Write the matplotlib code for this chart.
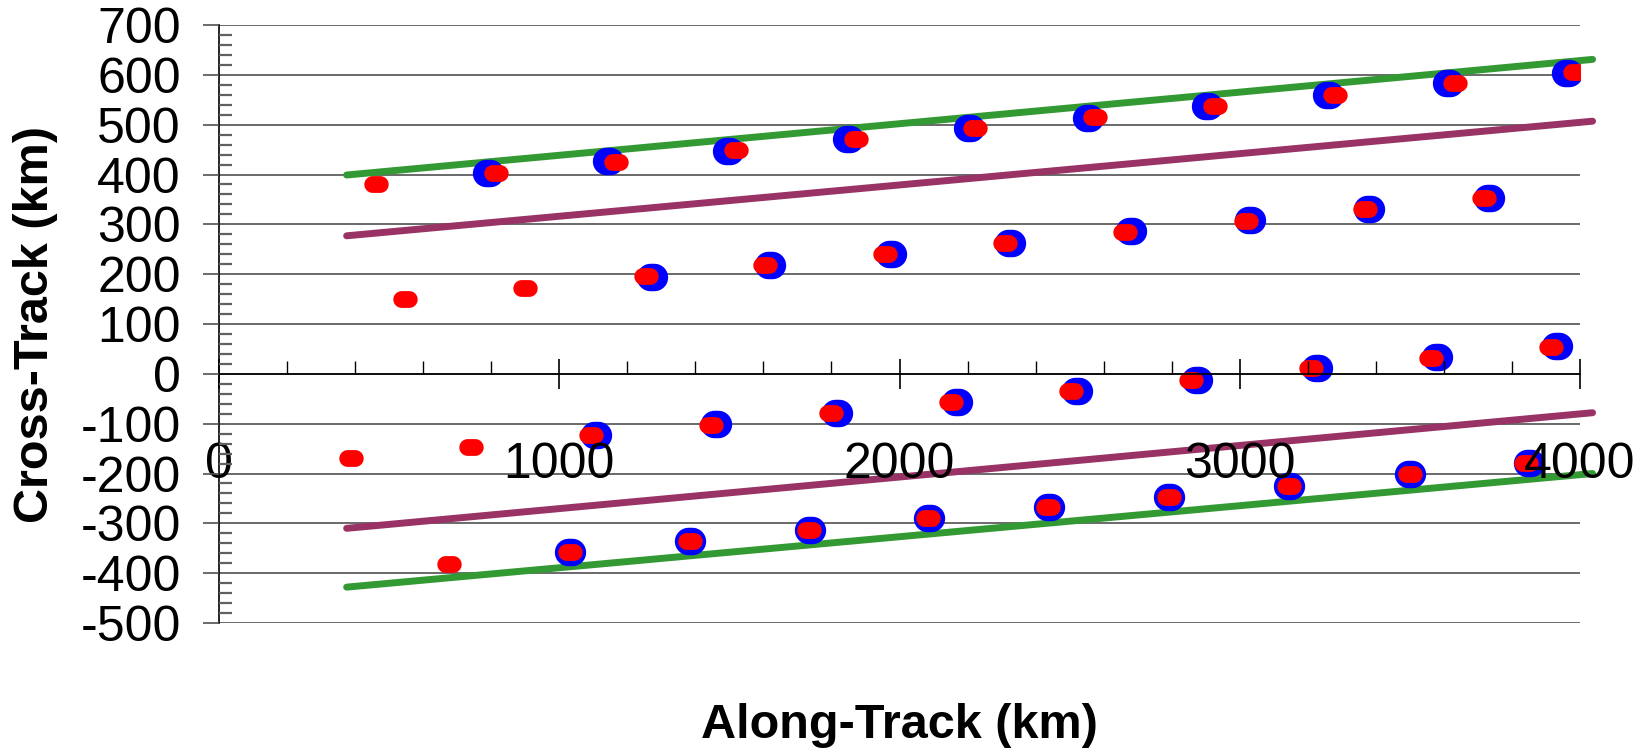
import numpy as np
import matplotlib
matplotlib.use("Agg")
import matplotlib.pyplot as plt
from matplotlib.path import Path
from matplotlib.ticker import MultipleLocator

plt.rcParams['axes.unicode_minus'] = False

# boundary lines, along-track end points
line_x = [375, 4037]
green_top = [399, 631]
purple_top = [277, 507]
purple_bot = [-310, -78]
green_bot = [-428, -200]

# blue points, four tracks
blue1_x = [790, 1143, 1495, 1848, 2203, 2553, 2905, 3258, 3613, 3963]
blue1_y = [404, 427, 447, 471, 493, 514, 537, 560, 583, 604]
blue2_x = [1273, 1619, 1975, 2326, 2679, 3031, 3381, 3734]
blue2_y = [195, 219, 241, 263, 286, 308, 330, 352]
blue3_x = [1109, 1462, 1817, 2169, 2522, 2874, 3226, 3579, 3932]
blue3_y = [-122, -101, -79, -56, -35, -13, 11, 33, 55]
blue4_x = [1032, 1384, 1736, 2086, 2438, 2792, 3146, 3499, 3850]
blue4_y = [-358, -335, -313, -290, -268, -248, -225, -201, -178]

# red points, four tracks
red1_x = [462, 815, 1167, 1520, 1872, 2222, 2576, 2927, 3281, 3634, 3984]
red1_y = [380, 404, 426, 449, 471, 494, 515, 537, 560, 584, 606]
red2_x = [547, 899, 1254, 1604, 1956, 2311, 2663, 3017, 3368, 3718]
red2_y = [151, 173, 196, 219, 241, 263, 285, 307, 330, 352]
red3_x = [388, 741, 1093, 1446, 1799, 2151, 2505, 2858, 3210, 3563, 3916]
red3_y = [-169, -146, -122, -102, -79, -57, -35, -13, 11, 32, 54]
red4_x = [676, 1032, 1383, 1735, 2084, 2437, 2791, 3145, 3499, 3841]
red4_y = [-382, -358, -335, -313, -290, -268, -248, -225, -201, -178]

x_ticks = [0, 1000, 2000, 3000, 4000]
y_ticks = list(range(-500, 701, 100))


def stadium(a):
    # pill shaped marker: two half circles joined by straight parts
    t1 = np.linspace(-np.pi / 2, np.pi / 2, 24)
    t2 = np.linspace(np.pi / 2, 3 * np.pi / 2, 24)
    xs = np.concatenate([a + np.cos(t1), -a + np.cos(t2)])
    ys = np.concatenate([np.sin(t1), np.sin(t2)])
    verts = np.column_stack([xs, ys])
    verts = np.vstack([verts, verts[:1]])
    return Path(verts, closed=True)


blue_mark = stadium(0.14)
red_mark = stadium(0.45)

fig = plt.figure(figsize=(16.47, 7.49), dpi=100)
ax = fig.add_axes([0.1330, 0.1682, 0.8263, 0.7984])

ax.hlines(y_ticks, 0, 4000, colors='#505050', linewidth=1.2, zorder=0.8)

for yy, col in [(green_top, '#339933'), (purple_top, '#993366'),
                (purple_bot, '#993366'), (green_bot, '#339933')]:
    ax.plot(line_x, yy, color=col, linewidth=5, solid_capstyle='round',
            clip_on=False, zorder=1.5)

for xs, ys in [(blue1_x, blue1_y), (blue2_x, blue2_y), (blue3_x, blue3_y), (blue4_x, blue4_y)]:
    ax.plot(xs, ys, linestyle='none', marker=blue_mark, markersize=22.5,
            color='#0000ff', markeredgewidth=0, zorder=2)
for xs, ys in [(red1_x, red1_y), (red2_x, red2_y), (red3_x, red3_y), (red4_x, red4_y)]:
    ax.plot(xs, ys, linestyle='none', marker=red_mark, markersize=17.5,
            color='#ff0000', markeredgewidth=0, zorder=2.1)

ax.set_xlim(0, 4000)
ax.set_ylim(-500, 700)
ax.set_axisbelow(False)

ax.spines['top'].set_visible(False)
ax.spines['right'].set_visible(False)
ax.spines['bottom'].set_position(('data', 0))
ax.spines['bottom'].set_linewidth(1.2)
ax.spines['left'].set_linewidth(1.2)

ax.set_xticks(x_ticks)
ax.set_xticklabels([str(v) for v in x_ticks])
ax.xaxis.set_minor_locator(MultipleLocator(200))
ax.set_yticks(y_ticks)
ax.set_yticklabels([str(v) for v in y_ticks])
ax.yaxis.set_minor_locator(MultipleLocator(20))

ax.tick_params(axis='x', which='major', direction='inout', length=22, width=1.2,
               pad=38, labelsize=36, color='black')
ax.tick_params(axis='x', which='minor', direction='in', length=9.5, width=1.0)
ax.tick_params(axis='y', which='major', direction='out', length=11.5, width=1.2,
               pad=16, labelsize=36, color='#505050')
ax.tick_params(axis='y', which='minor', direction='in', length=9, width=1.6,
               color='#606060')
for lab in ax.get_xticklabels() + ax.get_yticklabels():
    lab.set_family('Liberation Sans')

ax.set_xlabel('Along-Track (km)', fontsize=35, fontweight='bold', family='Liberation Sans')
ax.xaxis.set_label_coords(0.5, -0.1706)
ax.xaxis.label.set_va('center')
ax.set_ylabel('Cross-Track (km)', fontsize=35, fontweight='bold', family='Liberation Sans')
ax.yaxis.set_label_coords(-0.135, 0.5)
ax.yaxis.label.set_va('center')

fig.savefig('out.png', dpi=100)
